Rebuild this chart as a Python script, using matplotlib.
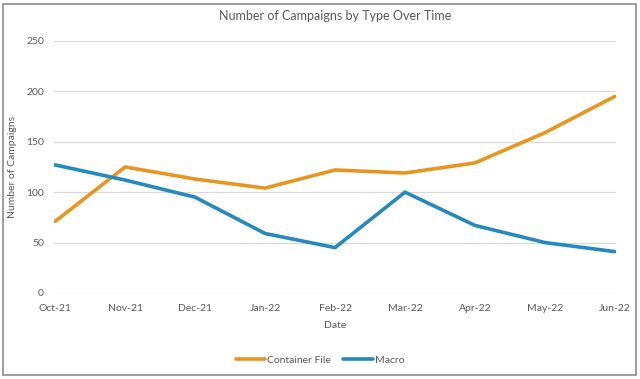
import matplotlib
matplotlib.use("Agg")
import matplotlib.pyplot as plt
from matplotlib.patches import Rectangle

months = ["Oct-21", "Nov-21", "Dec-21", "Jan-22", "Feb-22", "Mar-22", "Apr-22", "May-22", "Jun-22"]
container_file = [71, 125, 113, 104, 122, 119, 129, 159, 195]
macro = [127, 112, 95, 59, 45, 100, 67, 50, 41]
yticks = [0, 50, 100, 150, 200, 250]

txt = "#595959"
plt.rcParams["font.family"] = ["Lato", "DejaVu Sans"]

fig = plt.figure(figsize=(6.4, 3.79), dpi=100)
ax = fig.add_axes([0.084, 0.227, 0.879, 0.665])

x = range(len(months))
ax.plot(x, container_file, color="#E8951F", lw=2.6, label="Container File", solid_capstyle="round")
ax.plot(x, macro, color="#2389BF", lw=2.6, label="Macro", solid_capstyle="round")

ax.set_ylim(0, 250)
ax.set_xlim(-0.02, len(months) - 1 + 0.02)
ax.set_yticks(yticks)
ax.set_xticks(list(x))
ax.set_xticklabels(months)
ax.grid(axis="y", color="#D9D9D9", lw=0.9)
ax.set_axisbelow(True)
for s in ax.spines.values():
    s.set_visible(False)
ax.tick_params(length=0, colors=txt, labelsize=7.5, pad=8)
ax.tick_params(axis="y", pad=7)

ax.set_title("Number of Campaigns by Type Over Time", fontsize=9, color=txt, pad=15)
ax.set_xlabel("Date", fontsize=7.5, color=txt, labelpad=6)
ax.set_ylabel("Number of Campaigns", fontsize=7.5, color=txt)
ax.yaxis.set_label_coords(-0.066, 0.5)

fig.legend(loc="center", bbox_to_anchor=(0.5, 0.05), ncol=2, frameon=False,
           fontsize=7.5, labelcolor=txt, handlelength=2.8, handletextpad=0.2,
           columnspacing=1.2)

fig.patches.append(Rectangle((0.005, 0.01), 0.989, 0.98, transform=fig.transFigure,
                             fill=False, edgecolor="#8C8C8C", lw=1.2))

fig.savefig("out.png", dpi=100)
